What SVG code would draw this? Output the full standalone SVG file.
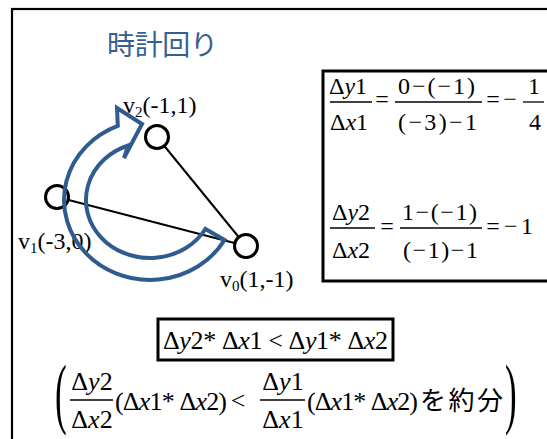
<svg xmlns="http://www.w3.org/2000/svg" width="547" height="439" viewBox="0 0 547 439">
<defs>
<style>
.dummy{fill:none}
text.s{font-family:'Liberation Serif','Times New Roman',serif}
.i{font-style:italic}
.bar{stroke:#000;stroke-width:1.3}
.eq{fill:none;stroke:#000;stroke-width:3}
.node{fill:#fff;stroke:#000;stroke-width:3}
.edge{stroke:#000;stroke-width:2}
.sub{font-size:15px}
</style>
</defs>
<rect width="547" height="439" fill="#fff"/>
<rect x="12" y="9" width="600" height="500" fill="none" stroke="#000" stroke-width="2.2"/>
<text id="title" font-family="Noto Sans CJK JP, Noto Sans CJK SC, sans-serif" x="107" y="55" font-size="28" fill="#376092" textLength="111" lengthAdjust="spacing">時計回り</text>

<g id="connectors">
<line class="edge" x1="157" y1="137" x2="246" y2="246"/>
<line class="edge" x1="57" y1="197" x2="246" y2="246"/>
</g>

<g font-size="24" fill="#000">
<g id="v2">
<circle class="node" cx="157" cy="137" r="11.5"/>
<text class="s" x="123" y="113">v<tspan class="sub" dy="4">2</tspan><tspan dy="-4">(-1,1)</tspan></text>
</g>
<g id="v1">
<circle class="node" cx="57" cy="197" r="11.5"/>
<text class="s" x="18" y="249">v<tspan class="sub" dy="4">1</tspan><tspan dy="-4">(-3,0)</tspan></text>
</g>
<g id="v0">
<circle class="node" cx="246" cy="246" r="11.5"/>
<text class="s" x="220" y="287">v<tspan class="sub" dy="4">0</tspan><tspan dy="-4">(1,-1)</tspan></text>
</g>
</g>

<g id="arrow">
<path d="M224.5,240 A86,80 0 1 1 117.8,125.8 L117,108 L142,124 L124,158 L128.1,145.5 A64,58 0 1 0 205.4,229 Z" fill="none" stroke="#2E5C8E" stroke-width="4" stroke-linejoin="miter"/>
</g>

<g id="slopes" font-size="24" fill="#000">
<rect class="eq" x="323" y="71" width="260" height="210"/>
<text class="s" x="348" y="94" text-anchor="middle">Δ<tspan class="i">y</tspan>1</text>
<line class="bar" x1="330" y1="102" x2="372" y2="102"/>
<text class="s" x="349" y="130" text-anchor="middle">Δ<tspan class="i">x</tspan>1</text>
<text class="s" x="382" y="107" text-anchor="middle">=</text>
<text class="s" x="398" y="94" textLength="77" lengthAdjust="spacing">0−(−1)</text>
<line class="bar" x1="395" y1="102" x2="482" y2="102"/>
<text class="s" x="398" y="130" textLength="79" lengthAdjust="spacing">(−3)−1</text>
<text class="s" x="493" y="107" text-anchor="middle">=</text>
<text class="s" x="510" y="107" text-anchor="middle">−</text>
<text class="s" x="534" y="94" text-anchor="middle">1</text>
<line class="bar" x1="523" y1="102" x2="544" y2="102"/>
<text class="s" x="535" y="130" text-anchor="middle">4</text>

<text class="s" x="351" y="220" text-anchor="middle">Δ<tspan class="i">y</tspan>2</text>
<line class="bar" x1="330" y1="228" x2="375" y2="228"/>
<text class="s" x="351" y="258" text-anchor="middle">Δ<tspan class="i">x</tspan>2</text>
<text class="s" x="387" y="234" text-anchor="middle">=</text>
<text class="s" x="402" y="220" textLength="75" lengthAdjust="spacing">1−(−1)</text>
<line class="bar" x1="400" y1="228" x2="482" y2="228"/>
<text class="s" x="403" y="258" textLength="75" lengthAdjust="spacing">(−1)−1</text>
<text class="s" x="493" y="234" text-anchor="middle">=</text>
<text class="s" x="504" y="234" textLength="29" lengthAdjust="spacing">−1</text>
</g>

<g id="inequality" font-size="26" fill="#000">
<rect class="eq" x="158" y="319" width="235" height="41"/>
<text class="s" x="163" y="349" textLength="225" lengthAdjust="spacing">Δ<tspan class="i">y</tspan>2* Δ<tspan class="i">x</tspan>1 &lt; Δ<tspan class="i">y</tspan>1* Δ<tspan class="i">x</tspan>2</text>
</g>

<g id="reduction" font-size="26" fill="#000">
<text class="s" font-size="78" transform="translate(55,419) scale(0.45,1)">(</text>
<text class="s" x="92" y="390" text-anchor="middle">Δ<tspan class="i">y</tspan>2</text>
<line class="bar" x1="70" y1="400" x2="113" y2="400"/>
<text class="s" x="92" y="428" text-anchor="middle">Δ<tspan class="i">x</tspan>2</text>
<text class="s" x="115" y="410" textLength="112" lengthAdjust="spacing">(Δ<tspan class="i">x</tspan>1* Δ<tspan class="i">x</tspan>2)</text>
<text class="s" x="238" y="409" text-anchor="middle">&lt;</text>
<text class="s" x="283" y="390" text-anchor="middle">Δ<tspan class="i">y</tspan>1</text>
<line class="bar" x1="260" y1="400" x2="305" y2="400"/>
<text class="s" x="283" y="428" text-anchor="middle">Δ<tspan class="i">x</tspan>1</text>
<text class="s" x="307" y="410" textLength="111" lengthAdjust="spacing">(Δ<tspan class="i">x</tspan>1* Δ<tspan class="i">x</tspan>2)</text>
<text font-family="Noto Sans CJK JP, Noto Sans CJK SC, sans-serif" x="420" y="410" font-size="26" textLength="83" lengthAdjust="spacing">を約分</text>
<text class="s" font-size="78" transform="translate(505,419) scale(0.45,1)">)</text>
</g>
</svg>
